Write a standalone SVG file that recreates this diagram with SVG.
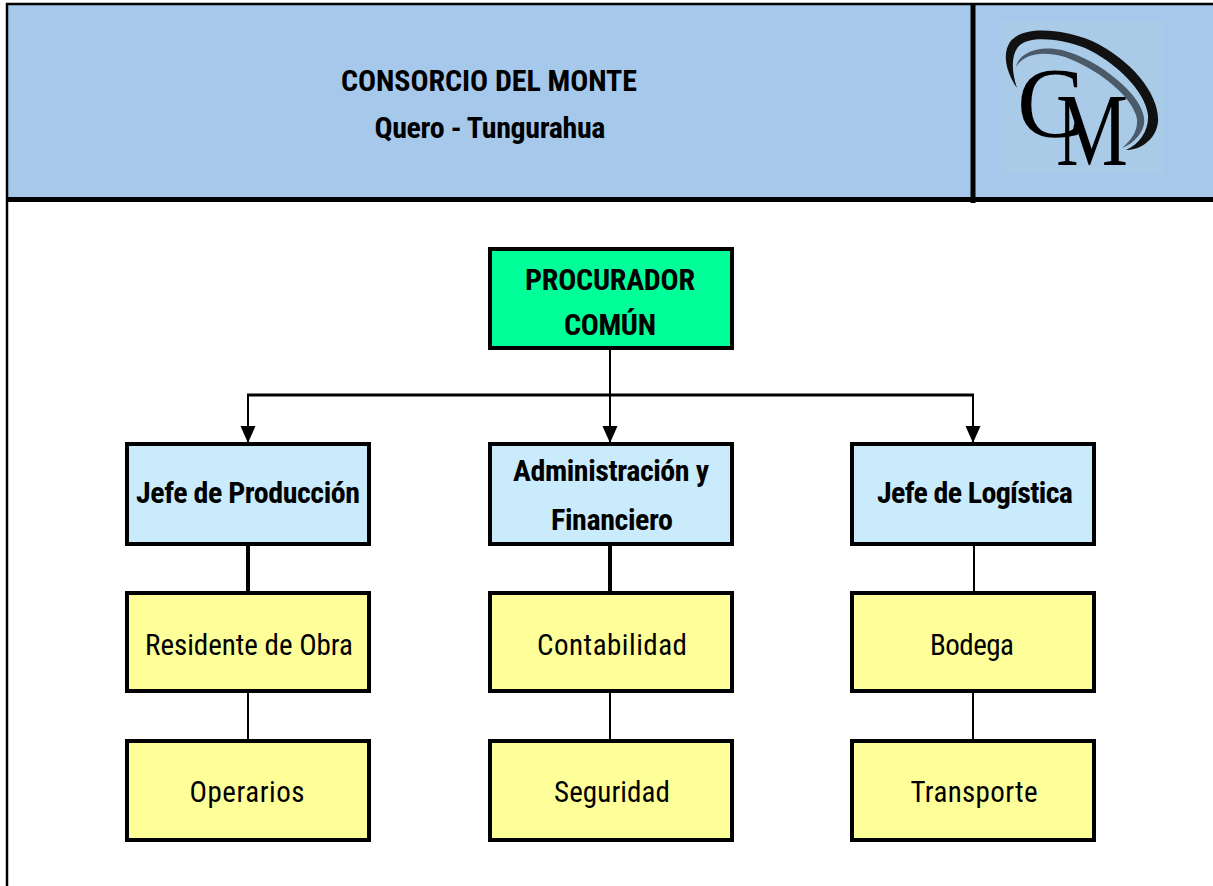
<svg xmlns="http://www.w3.org/2000/svg" width="1213" height="886" viewBox="0 0 1213 886">
<style>
text{font-family:"Liberation Sans Narrow","Roboto Condensed","Liberation Sans",Arial,sans-serif;text-anchor:middle;fill:#000}
.b{font-weight:700;font-size:30px}
.r{font-size:29px}
.box{stroke:#000;stroke-width:4}
.g{fill:#00ff99}.l{fill:#c9ebfc}.y{fill:#ffff99}
.c{fill:none;stroke:#000;stroke-width:2}
.t{stroke-width:4}
.h{stroke-width:3}
</style>
<defs><marker id="a" markerWidth="16" markerHeight="18" refX="17" refY="7.5" orient="auto" markerUnits="userSpaceOnUse"><path d="M0 0L17 7.5L0 15Z" fill="#000"/></marker></defs>
<rect x="0" y="0" width="1213" height="886" fill="#fff"/>
<g id="header">
<rect x="7" y="4" width="1206" height="194" fill="#a6c9eb"/>
<path d="M6 4H1213M7 3V886" fill="none" stroke="#000" stroke-width="2.5"/>
<path d="M7 199.500H1213M973 3V203" fill="none" stroke="#000" stroke-width="5"/>
<text class="b" x="489" y="91" textLength="296">CONSORCIO DEL MONTE</text>
<text class="b" x="490" y="138" textLength="231">Quero - Tungurahua</text>
</g>
<g id="logo">
<rect x="1001" y="21" width="162" height="153" fill="#aacbe8"/>
<path d="M1017 88C1006 72 1002 54 1010 42C1022 26 1060 28 1092 41C1132 60 1160 95 1158 122C1156 140 1140 150 1126 150C1140 144 1149 130 1148 115C1145 90 1115 62 1085 48C1060 38 1030 36 1020 45C1011 53 1011 70 1017 88Z" fill="#111"/>
<path d="M1016 67C1019 52 1040 45 1062 50C1100 60 1142 95 1144 118C1146 130 1135 143 1122 148C1132 140 1140 128 1136 115C1128 92 1095 68 1065 57C1040 50 1023 55 1016 67Z" fill="#4a5a68"/>
<text style="font-family:'Liberation Serif',serif;font-size:100px;text-anchor:start"><tspan x="1017" y="136">C</tspan><tspan x="1056" y="165" textLength="72" lengthAdjust="spacingAndGlyphs" style="font-size:104px">M</tspan></text>
</g>
<g id="connectors">
<path class="c" d="M610 349V395"/>
<path class="c h" d="M247 395H974"/>
<path class="c" d="M248 395V443" marker-end="url(#a)"/>
<path class="c" d="M610 395V443" marker-end="url(#a)"/>
<path class="c" d="M973 395V443" marker-end="url(#a)"/>
<path class="c t" d="M248 545V593M610 545V593"/>
<path class="c" d="M974 545V593M248 692V741M610 692V741M973 692V741"/>
</g>
<g id="n1"><rect class="box g" x="490" y="249" width="242" height="99"/><text class="b" x="610" y="290" textLength="170">PROCURADOR</text><text class="b" x="610" y="335" textLength="92">COMÚN</text></g>
<g id="n2"><rect class="box l" x="127" y="444" width="242" height="100"/><text class="b" x="248" y="503" textLength="224">Jefe de Producción</text></g>
<g id="n3"><rect class="box l" x="490" y="444" width="242" height="100"/><text class="b" x="611" y="481" textLength="196">Administración y</text><text class="b" x="612" y="530" textLength="122">Financiero</text></g>
<g id="n4"><rect class="box l" x="852" y="444" width="242" height="100"/><text class="b" x="975" y="503" textLength="196">Jefe de Logística</text></g>
<g id="n5"><rect class="box y" x="127" y="593" width="242" height="98"/><text class="r" x="249" y="655" textLength="208">Residente de Obra</text></g>
<g id="n6"><rect class="box y" x="490" y="593" width="242" height="98"/><text class="r" x="612" y="655" textLength="150">Contabilidad</text></g>
<g id="n7"><rect class="box y" x="852" y="593" width="242" height="98"/><text class="r" x="972" y="655" textLength="84">Bodega</text></g>
<g id="n8"><rect class="box y" x="127" y="741" width="242" height="99"/><text class="r" x="247" y="802" textLength="115">Operarios</text></g>
<g id="n9"><rect class="box y" x="490" y="741" width="242" height="99"/><text class="r" x="612" y="802" textLength="116">Seguridad</text></g>
<g id="n10"><rect class="box y" x="852" y="741" width="242" height="99"/><text class="r" x="974" y="802" textLength="127">Transporte</text></g>
</svg>
